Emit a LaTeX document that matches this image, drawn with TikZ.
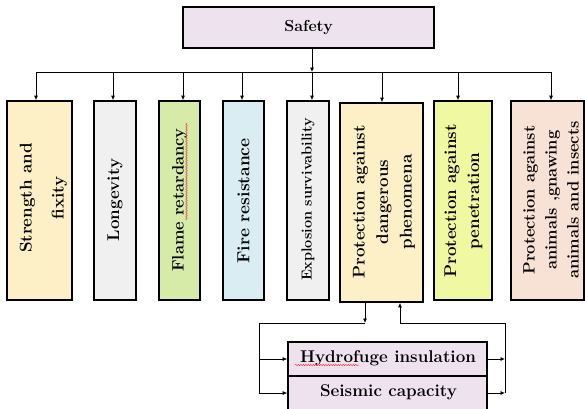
\documentclass[tikz,border=0pt]{standalone}
\usetikzlibrary{arrows.meta,decorations.pathmorphing}

\definecolor{lavender}{HTML}{EFE2EF}
\definecolor{cream}{HTML}{FDF0C6}
\definecolor{paleGray}{HTML}{F0F0F0}
\definecolor{paleGreen}{HTML}{D6EBA8}
\definecolor{paleBlue}{HTML}{DAEDF2}
\definecolor{paleLime}{HTML}{F1F8A2}
\definecolor{palePeach}{HTML}{F8E1D5}
\definecolor{spellRed}{HTML}{E8404A}

\begin{document}
\begin{tikzpicture}[x=1pt,y=-1pt,
  box/.style={draw=black,line width=1.6pt,inner sep=0pt},
  vlabel/.style={rotate=90,align=center,inner sep=0pt,
    font=\bfseries\fontsize{17}{23}\selectfont},
  hlabel/.style={inner sep=0pt,font=\bfseries\fontsize{17}{20}\selectfont},
  conn/.style={line width=0.75pt},
  arr/.style={conn,-{Latex[length=4.5pt,width=4pt]}},
  squiggle/.style={spellRed,line width=0.5pt,
    decorate,decoration={snake,amplitude=0.7pt,segment length=2.5pt}}]
\useasboundingbox (0,0) rectangle (585,408);

% top node
\node[box,fill=lavender,minimum width=251pt,minimum height=41pt] (safety) at (308.5,27.5) {};
\node[hlabel,font=\bfseries\fontsize{16}{19}\selectfont] at (safety.center) {Safety};

% second level boxes
\node[box,fill=cream,minimum width=65pt,minimum height=199pt] (b1) at (39.5,200.5) {};
\node[box,fill=paleGray,minimum width=42pt,minimum height=199pt] (b2) at (115,200.5) {};
\node[box,fill=paleGreen,minimum width=41pt,minimum height=199pt] (b3) at (179.5,200.5) {};
\node[box,fill=paleBlue,minimum width=41pt,minimum height=199pt] (b4) at (243.5,200.5) {};
\node[box,fill=paleGray,minimum width=42pt,minimum height=199pt] (b5) at (308,200.5) {};
\node[box,fill=cream,minimum width=83pt,minimum height=199pt] (b6) at (381.5,202.5) {};
\node[box,fill=paleLime,minimum width=58pt,minimum height=199pt] (b7) at (463,200.5) {};
\node[box,fill=palePeach,minimum width=73pt,minimum height=199pt] (b8) at (547.5,200.5) {};

\node[vlabel,font=\bfseries\fontsize{17}{32}\selectfont] (l1) at (43.5,198) {Strength and\\fixity};
\node[vlabel] (l2) at (115,200) {Longevity};
\node[vlabel,font=\bfseries\fontsize{16.5}{23}\selectfont] (l3) at (179.5,200) {Flame retardancy};
\node[vlabel,font=\bfseries\fontsize{17.5}{23}\selectfont] (l4) at (243.5,201) {Fire resistance};
\node[vlabel,font=\bfseries\fontsize{14.5}{20}\selectfont] (l5) at (308,199.5) {Explosion survivability};
\node[vlabel,font=\bfseries\fontsize{17}{23.5}\selectfont] (l6) at (384,202) {Protection against\\dangerous\\phenomena};
\node[vlabel,font=\bfseries\fontsize{17}{23}\selectfont] (l7) at (463.5,201) {Protection against\\penetration};
\node[vlabel,font=\bfseries\fontsize{16.5}{22}\selectfont] (l8) at (551,200) {Protection against\\animals ,gnawing\\animals and insects};

% bus from the top node to the boxes
\coordinate (t1) at (36,72);
\coordinate (t2) at (113,72);
\coordinate (t3) at (183,72);
\coordinate (t4) at (242,72);
\coordinate (t5) at (312,72);
\coordinate (t6) at (382,72);
\coordinate (t7) at (458,72);
\coordinate (t8) at (551,72);

\draw[arr] (safety.south -| t5) -- (t5);
\draw[conn] (t1) -- (t8);
\foreach \i in {1,...,8} {
  \draw[arr] (t\i) -- (t\i |- b\i.north);
}

% lower group
\node[box,fill=lavender,minimum width=199pt,minimum height=34pt] (hyd) at (387.5,359) {};
\node[box,fill=lavender,minimum width=199pt,minimum height=34pt] (seis) at (387.5,393) {};
\node[hlabel] (lh) at (388,358) {Hydrofuge insulation};
\node[hlabel] (ls) at (388.5,392) {Seismic capacity};

\coordinate (dn) at (365,323);
\coordinate (lt) at (259,323);
\coordinate (lb) at (259,393);
\coordinate (rt) at (505,323);
\coordinate (up) at (400,323);

\draw[arr] (dn |- b6.south) -- (dn);
\draw[conn] (dn) -- (lt) -- (lb);
\draw[arr] (lt |- hyd.west) -- (hyd.west);
\draw[arr] (lb) -- (seis.west);
\draw[arr] (hyd.east) -- (rt |- hyd.east);
\draw[arr] (seis.east) -- (rt |- seis.east);
\draw[conn] (rt |- seis.east) -- (rt) -- (up);
\draw[arr] (up) -- (up |- b6.south);

% spell-check marks
\draw[squiggle] (186.5,220) -- (186.5,123);
\draw[squiggle] (295,365) -- (359,365);
\end{tikzpicture}
\end{document}
